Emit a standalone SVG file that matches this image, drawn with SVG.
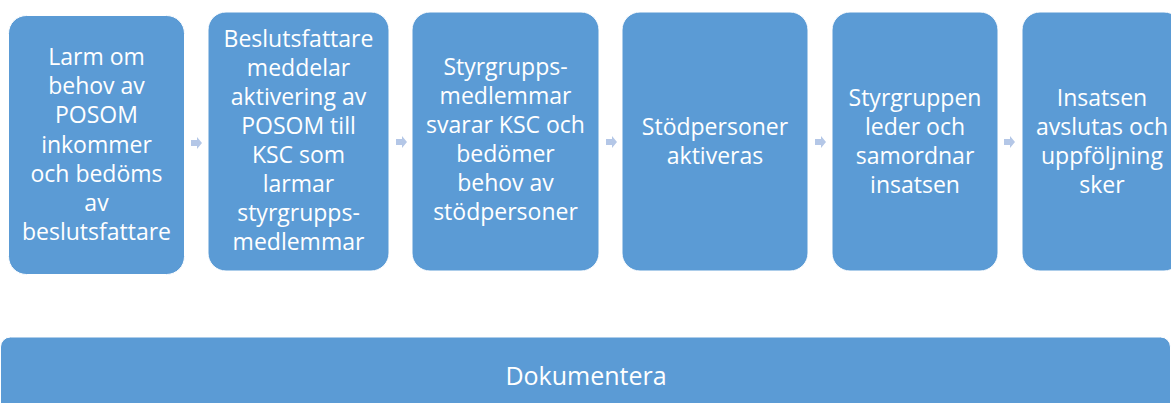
<svg xmlns="http://www.w3.org/2000/svg" width="1171" height="403" viewBox="0 0 1171 403">
<style>
.box{fill:#5B9BD5;stroke:#FFFFFF;stroke-width:1}
.t{font-family:"Open Sans","Liberation Sans",sans-serif;font-size:23px;fill:#FFFFFF;text-anchor:middle}
.big{font-size:25px}
.arr{fill:#B4C7E7}
</style>
<defs>
<path id="arrow" d="M0,-3 H6 V-6 L11,0 L6,6 V3 H0 Z"/>
</defs>
<rect width="1171" height="403" fill="#FFFFFF"/>
<g id="connectors" class="arr">
<use href="#arrow" x="191" y="143"/>
<use href="#arrow" x="396" y="142"/>
<use href="#arrow" x="606" y="142"/>
<use href="#arrow" x="815" y="142"/>
<use href="#arrow" x="1004" y="142"/>
</g>
<g id="n1">
<rect class="box" x="8.5" y="15.5" width="176" height="259" rx="18"/>
<text class="t" x="96.5" y="65">Larm om<tspan x="96.5" dy="29.2">behov av</tspan><tspan x="96.5" dy="29.2">POSOM</tspan><tspan x="96.5" dy="29.2">inkommer</tspan><tspan x="96.5" dy="29.2">och bedöms</tspan><tspan x="96.5" dy="29.2">av</tspan><tspan x="96.5" dy="29.2">beslutsfattare</tspan></text>
</g>
<g id="n2">
<rect class="box" x="208" y="12" width="181" height="259" rx="18"/>
<text class="t" x="298.5" y="47">Beslutsfattare<tspan x="298.5" dy="29">meddelar</tspan><tspan x="298.5" dy="29">aktivering av</tspan><tspan x="298.5" dy="29">POSOM till</tspan><tspan x="298.5" dy="29">KSC som</tspan><tspan x="298.5" dy="29">larmar</tspan><tspan x="298.5" dy="29">styrgrupps-</tspan><tspan x="298.5" dy="29">medlemmar</tspan></text>
</g>
<g id="n3">
<rect class="box" x="412" y="12" width="187" height="259" rx="18"/>
<text class="t" x="505.5" y="75">Styrgrupps-<tspan x="505.5" dy="29">medlemmar</tspan><tspan x="505.5" dy="29">svarar KSC och</tspan><tspan x="505.5" dy="29">bedömer</tspan><tspan x="505.5" dy="29">behov av</tspan><tspan x="505.5" dy="29">stödpersoner</tspan></text>
</g>
<g id="n4">
<rect class="box" x="622" y="12" width="186" height="259" rx="18"/>
<text class="t" x="715" y="135">Stödpersoner<tspan x="715" dy="29">aktiveras</tspan></text>
</g>
<g id="n5">
<rect class="box" x="832" y="12" width="166" height="259" rx="18"/>
<text class="t" x="915" y="106">Styrgruppen<tspan x="915" dy="29">leder och</tspan><tspan x="915" dy="29">samordnar</tspan><tspan x="915" dy="29">insatsen</tspan></text>
</g>
<g id="n6">
<rect class="box" x="1022" y="12" width="160" height="259" rx="18"/>
<text class="t" x="1102" y="106">Insatsen<tspan x="1102" dy="29">avslutas och</tspan><tspan x="1102" dy="29">uppföljning</tspan><tspan x="1102" dy="29">sker</tspan></text>
</g>
<g id="n7">
<rect class="box" x="0.5" y="337" width="1170" height="80" rx="10"/>
<text class="t big" x="586" y="385">Dokumentera</text>
</g>
</svg>
